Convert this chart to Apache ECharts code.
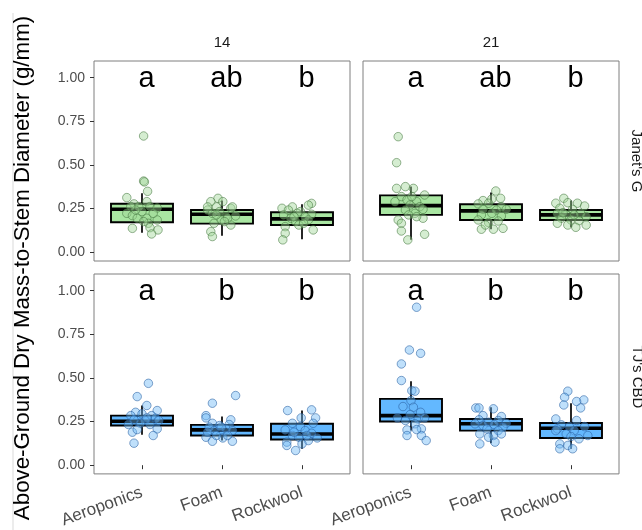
<!DOCTYPE html>
<html>
<head>
<meta charset="utf-8">
<script src="https://cdn.jsdelivr.net/npm/echarts@6/dist/echarts.min.js"></script>
<style>html,body{margin:0;padding:0;background:#fff;}#c{width:642px;height:530px;}</style>
</head>
<body>
<div id="c"></div>
<script>
const categories = ['Aeroponics', 'Foam', 'Rockwool'];
const dayLabels = ['14', '21'];
const cultivarLabels = ["Janet's G", "TJ's CBD"];
const yTicks = [0, 0.25, 0.5, 0.75, 1];
const yTitle = 'Above-Ground Dry Mass-to-Stem Diameter (g/mm)';

const lettersJanet14 = ['a', 'ab', 'b'];
const lettersJanet21 = ['a', 'ab', 'b'];
const lettersTJ14 = ['a', 'b', 'b'];
const lettersTJ21 = ['a', 'b', 'b'];
const letterLevel = 0.994;

// [lower whisker, Q1, median, Q3, upper whisker] per category
const boxJanet14 = [[0.112, 0.172, 0.246, 0.278, 0.338], [0.094, 0.164, 0.218, 0.242, 0.296], [0.074, 0.156, 0.191, 0.229, 0.275]];
const boxJanet21 = [[0.071, 0.214, 0.267, 0.326, 0.376], [0.132, 0.185, 0.237, 0.275, 0.342], [0.143, 0.185, 0.214, 0.242, 0.296]];
const boxTJ14 = [[0.174, 0.227, 0.252, 0.284, 0.342], [0.141, 0.170, 0.202, 0.231, 0.279], [0.094, 0.147, 0.179, 0.237, 0.313]];
const boxTJ21 = [[0.198, 0.250, 0.284, 0.380, 0.481], [0.126, 0.198, 0.237, 0.265, 0.332], [0.094, 0.156, 0.212, 0.242, 0.355]];

// jittered points: [horizontal jitter (category units), value]
const janet14Aeroponics = [[0.02,0.666],[0.02,0.408],[0.03,0.403],[0.07,0.349],[-0.19,0.313],[-0.10,0.277],[-0.04,0.262],[0.06,0.29],[0.10,0.262],[0.19,0.254],[-0.19,0.223],[-0.12,0.21],[-0.06,0.195],[0.06,0.195],[0.19,0.185],[0.08,0.166],[-0.12,0.137],[0.10,0.141],[0.20,0.128],[0.12,0.105],[0.0,0.233],[-0.08,0.242],[0.14,0.223],[0.02,0.176],[-0.14,0.262]];
const janet14Foam = [[-0.05,0.309],[-0.14,0.29],[0.01,0.29],[-0.07,0.26],[0.11,0.252],[-0.18,0.242],[-0.03,0.233],[-0.12,0.223],[0.05,0.204],[0.17,0.208],[-0.01,0.185],[-0.10,0.166],[0.11,0.156],[-0.14,0.118],[-0.12,0.09],[0.07,0.195],[0.13,0.26],[-0.18,0.26],[0.03,0.176],[-0.07,0.214]];
const janet14Rockwool = [[0.12,0.28],[0.08,0.27],[-0.12,0.26],[-0.25,0.252],[-0.02,0.233],[-0.06,0.223],[0.12,0.218],[-0.23,0.214],[-0.14,0.195],[0.04,0.204],[-0.08,0.176],[-0.04,0.156],[-0.21,0.147],[0.14,0.128],[-0.21,0.109],[-0.24,0.071],[0.08,0.185],[-0.10,0.204],[-0.17,0.242],[0.02,0.166]];
const janet21Aeroponics = [[-0.16,0.662],[-0.18,0.513],[-0.18,0.366],[-0.07,0.376],[0.03,0.366],[0.17,0.328],[-0.12,0.319],[-0.05,0.30],[0.07,0.29],[-0.20,0.29],[-0.01,0.271],[0.11,0.261],[-0.07,0.242],[0.15,0.246],[0.05,0.223],[-0.03,0.214],[-0.16,0.185],[0.15,0.195],[-0.12,0.166],[-0.12,0.122],[0.17,0.103],[-0.04,0.071],[0.01,0.319],[0.07,0.204]];
const janet21Foam = [[0.06,0.351],[-0.10,0.296],[0.01,0.305],[0.12,0.309],[-0.16,0.277],[-0.03,0.281],[0.13,0.261],[-0.10,0.246],[0.07,0.242],[0.19,0.246],[-0.12,0.214],[0.01,0.223],[0.13,0.208],[-0.16,0.185],[-0.03,0.17],[0.09,0.179],[-0.12,0.132],[0.03,0.132],[0.15,0.137],[-0.07,0.156]];
const janet21Rockwool = [[-0.09,0.309],[-0.19,0.281],[-0.04,0.284],[0.08,0.281],[0.17,0.265],[-0.14,0.252],[0.02,0.246],[-0.17,0.223],[0.12,0.223],[-0.06,0.214],[0.19,0.204],[-0.12,0.195],[0.0,0.185],[0.10,0.181],[-0.04,0.156],[0.06,0.143],[0.19,0.156],[-0.17,0.166],[-0.10,0.227],[0.04,0.214]];
const tj14Aeroponics = [[0.08,0.469],[-0.06,0.393],[0.06,0.342],[0.19,0.313],[-0.08,0.303],[-0.14,0.284],[0.0,0.294],[0.12,0.284],[0.17,0.269],[-0.10,0.26],[0.04,0.256],[-0.02,0.24],[0.10,0.233],[-0.17,0.233],[0.19,0.208],[-0.12,0.189],[-0.06,0.204],[0.14,0.17],[-0.10,0.126],[0.21,0.256],[0.06,0.271]];
const tj14Foam = [[0.17,0.399],[-0.12,0.355],[-0.20,0.284],[-0.20,0.271],[0.11,0.26],[-0.12,0.24],[-0.03,0.227],[0.09,0.233],[-0.16,0.218],[0.05,0.208],[-0.10,0.198],[0.13,0.198],[-0.20,0.16],[-0.12,0.137],[0.01,0.156],[0.13,0.137],[-0.07,0.17],[-0.01,0.218],[-0.18,0.189],[0.07,0.17]];
const tj14Rockwool = [[-0.18,0.313],[0.12,0.317],[0.17,0.271],[-0.01,0.271],[-0.12,0.24],[0.14,0.24],[-0.02,0.221],[-0.21,0.202],[0.04,0.198],[0.12,0.183],[-0.12,0.17],[0.19,0.156],[-0.04,0.16],[-0.19,0.132],[0.08,0.141],[-0.19,0.113],[0.0,0.122],[-0.08,0.084],[-0.10,0.189],[0.06,0.17]];
const tj21Aeroponics = [[0.07,0.905],[-0.02,0.66],[0.12,0.641],[-0.12,0.58],[-0.12,0.485],[0.01,0.427],[0.05,0.424],[0.0,0.37],[-0.10,0.336],[0.03,0.332],[0.12,0.303],[-0.01,0.29],[0.09,0.265],[0.17,0.271],[-0.17,0.271],[-0.07,0.256],[0.05,0.237],[0.13,0.208],[-0.05,0.202],[-0.05,0.17],[0.13,0.17],[0.19,0.141],[0.07,0.204]];
const tj21Foam = [[-0.19,0.328],[-0.15,0.328],[0.03,0.323],[-0.10,0.284],[0.13,0.279],[-0.15,0.26],[-0.03,0.246],[0.09,0.256],[0.19,0.24],[-0.10,0.227],[0.04,0.233],[0.15,0.218],[-0.05,0.208],[0.09,0.198],[-0.14,0.179],[0.03,0.17],[0.13,0.179],[-0.14,0.122],[0.05,0.132],[-0.03,0.16],[-0.20,0.237]];
const tj21Rockwool = [[-0.04,0.424],[-0.08,0.389],[0.16,0.374],[-0.09,0.345],[0.07,0.365],[0.12,0.328],[-0.19,0.265],[0.07,0.256],[-0.12,0.231],[-0.02,0.221],[0.17,0.221],[-0.17,0.208],[0.04,0.198],[-0.06,0.179],[0.21,0.17],[0.0,0.164],[-0.14,0.122],[-0.04,0.113],[-0.14,0.094],[0.02,0.094],[0.10,0.151],[-0.19,0.198]];

const FONT = '"Liberation Sans", Arial, Helvetica, sans-serif';
const greenBox = '#a9e6a2';
const blueBox = '#63b8ff';
const greenPt = { color: 'rgba(160,215,150,0.55)', borderColor: 'rgba(70,120,65,0.7)', borderWidth: 1 };
const bluePt = { color: 'rgba(110,185,245,0.55)', borderColor: 'rgba(40,95,160,0.7)', borderWidth: 1 };

const panels = [
  { left: 94, top: 61, box: boxJanet14, pts: [janet14Aeroponics, janet14Foam, janet14Rockwool], letters: lettersJanet14, fill: greenBox, pt: greenPt, bottom: false, leftCol: true },
  { left: 363, top: 61, box: boxJanet21, pts: [janet21Aeroponics, janet21Foam, janet21Rockwool], letters: lettersJanet21, fill: greenBox, pt: greenPt, bottom: false, leftCol: false },
  { left: 94, top: 274, box: boxTJ14, pts: [tj14Aeroponics, tj14Foam, tj14Rockwool], letters: lettersTJ14, fill: blueBox, pt: bluePt, bottom: true, leftCol: true },
  { left: 363, top: 274, box: boxTJ21, pts: [tj21Aeroponics, tj21Foam, tj21Rockwool], letters: lettersTJ21, fill: blueBox, pt: bluePt, bottom: true, leftCol: false }
];

const grids = [], xAxes = [], yAxes = [], series = [];
panels.forEach((p, i) => {
  grids.push({ left: p.left, top: p.top, width: 256, height: 200, show: true, borderColor: '#7f7f7f', borderWidth: 1, backgroundColor: '#fff', containLabel: false });
  xAxes.push({
    type: 'value', gridIndex: i, min: 0.4, max: 3.6,
    axisLine: { show: false }, splitLine: { show: false },
    axisTick: { show: p.bottom, customValues: [1, 2, 3], length: 4, lineStyle: { color: '#333', width: 1 } },
    axisLabel: { show: p.bottom, customValues: [1, 2, 3], rotate: 20, margin: 18, fontSize: 17, color: '#4d4d4d', fontFamily: FONT,
      formatter: v => categories[Math.round(v) - 1] }
  });
  yAxes.push({
    type: 'value', gridIndex: i, min: -0.05, max: 1.0955,
    axisLine: { show: false }, splitLine: { show: false },
    axisTick: { show: p.leftCol, customValues: yTicks, length: 4, lineStyle: { color: '#333', width: 1 } },
    axisLabel: { show: p.leftCol, customValues: yTicks, margin: 9, fontSize: 14, color: '#4d4d4d', fontFamily: FONT,
      formatter: v => v.toFixed(2) }
  });
  const fill = p.fill;
  series.push({
    type: 'custom', xAxisIndex: i, yAxisIndex: i, z: 2,
    data: p.box.map((s, k) => [k + 1].concat(s)),
    encode: { x: 0, y: [1, 2, 3, 4, 5] },
    renderItem: (params, api) => {
      const x = api.value(0);
      const lo = api.coord([x, api.value(1)]);
      const q1 = api.coord([x, api.value(2)]);
      const md = api.coord([x, api.value(3)]);
      const q3 = api.coord([x, api.value(4)]);
      const hi = api.coord([x, api.value(5)]);
      const hw = api.size([0.775, 0])[0] / 2;
      return { type: 'group', children: [
        { type: 'line', shape: { x1: lo[0], y1: lo[1], x2: q1[0], y2: q1[1] }, style: { stroke: '#000', lineWidth: 1.7 } },
        { type: 'line', shape: { x1: q3[0], y1: q3[1], x2: hi[0], y2: hi[1] }, style: { stroke: '#000', lineWidth: 1.7 } },
        { type: 'rect', shape: { x: q1[0] - hw, y: q3[1], width: 2 * hw, height: q1[1] - q3[1] }, style: { fill: fill, stroke: '#000', lineWidth: 1.9 } },
        { type: 'line', shape: { x1: md[0] - hw, y1: md[1], x2: md[0] + hw, y2: md[1] }, style: { stroke: '#000', lineWidth: 3.6 } }
      ] };
    }
  });
  const pdata = [];
  p.pts.forEach((arr, k) => arr.forEach(d => pdata.push([k + 1 + d[0], d[1]])));
  series.push({
    type: 'scatter', xAxisIndex: i, yAxisIndex: i, z: 3, symbol: 'circle', symbolSize: 8.5,
    itemStyle: p.pt, data: pdata, silent: true
  });
  const letters = p.letters;
  series.push({
    type: 'custom', xAxisIndex: i, yAxisIndex: i, z: 4,
    data: letters.map((l, k) => [k + 1, letterLevel]),
    encode: { x: 0, y: 1 },
    renderItem: (params, api) => {
      const c = api.coord([api.value(0), api.value(1)]);
      return { type: 'text', x: c[0] + 4.5, y: c[1], style: { text: letters[params.dataIndex], fontSize: 29, fontFamily: FONT, fill: '#000', align: 'center', verticalAlign: 'middle' } };
    }
  });
});

const chart = echarts.init(document.getElementById('c'), null, { renderer: 'canvas' });
chart.setOption({
  animation: false,
  backgroundColor: '#fff',
  grid: grids, xAxis: xAxes, yAxis: yAxes, series: series,
  graphic: [
    { type: 'line', shape: { x1: 13, y1: 13, x2: 13, y2: 530 }, style: { stroke: '#d9d9d9', lineWidth: 1 } },
    { type: 'text', x: 23, y: 268, rotation: Math.PI / 2, style: { text: yTitle, fontSize: 22.3, fontFamily: FONT, fill: '#000', align: 'center', verticalAlign: 'middle' } },
    { type: 'text', x: 222, y: 43, style: { text: dayLabels[0], fontSize: 15, fontFamily: FONT, fill: '#1a1a1a', align: 'center', verticalAlign: 'middle' } },
    { type: 'text', x: 491, y: 43, style: { text: dayLabels[1], fontSize: 15, fontFamily: FONT, fill: '#1a1a1a', align: 'center', verticalAlign: 'middle' } },
    { type: 'text', x: 636, y: 161, rotation: -Math.PI / 2, style: { text: cultivarLabels[0], fontSize: 15, fontFamily: FONT, fill: '#1a1a1a', align: 'center', verticalAlign: 'middle' } },
    { type: 'text', x: 637, y: 377, rotation: -Math.PI / 2, style: { text: cultivarLabels[1], fontSize: 15, fontFamily: FONT, fill: '#1a1a1a', align: 'center', verticalAlign: 'middle' } }
  ]
});
</script>
</body>
</html>
